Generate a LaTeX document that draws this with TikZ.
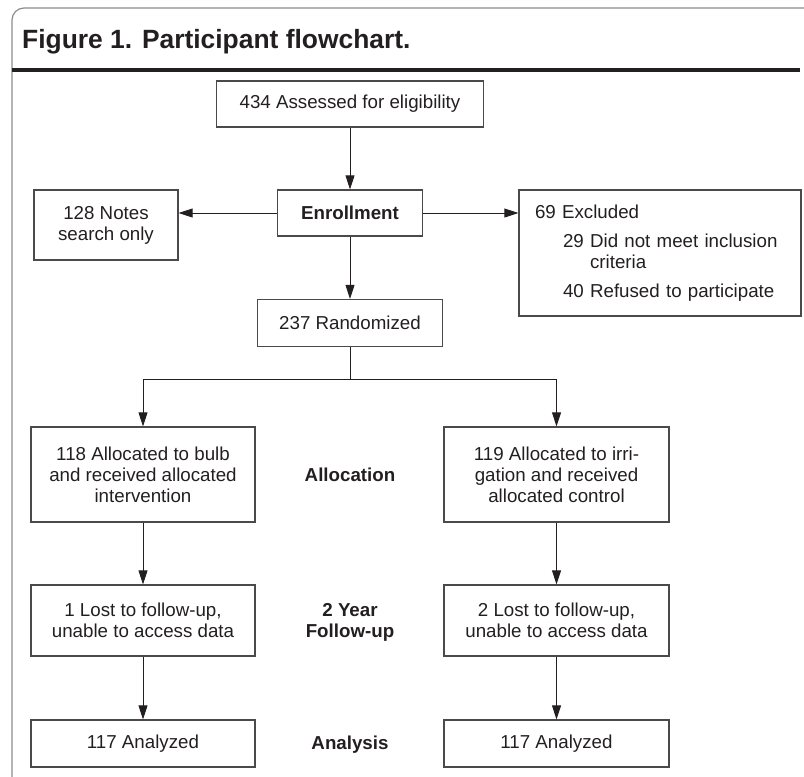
\documentclass[tikz,border=0pt]{standalone}
\usepackage{fontspec}
\setmainfont{Liberation Sans}
\usetikzlibrary{arrows.meta,positioning}
\definecolor{ink}{HTML}{231F20}
\definecolor{boxline}{HTML}{4A4A4A}
\definecolor{framegray}{HTML}{8C8C8C}

\begin{document}
\begin{tikzpicture}
    [x=1bp, y=-1bp,
    ->-/.style={-{Triangle[length=14bp,width=9bp]}, line width=0.9bp, draw=ink},
    box/.style={draw=boxline, line width=1.3bp, inner sep=0pt, align=center, text=ink,
        font=\fontsize{18.8}{21.1}\selectfont},
    stage/.style={inner sep=0pt, align=center, text=ink,
        font=\fontsize{18.8}{21.1}\selectfont\bfseries}]
        \useasboundingbox (0,0) rectangle (804,777);

        %% Frame and title
        \draw[framegray, line width=1.2bp, rounded corners=12bp] (12,777) -- (12,8) -- (804,8);
        \node[anchor=west, inner sep=0pt, text=ink, font=\fontsize{26.5}{30}\selectfont\bfseries] (title) at (22,42) {Figure 1. Participant flowchart.};
        \draw[ink, line width=4.5bp] (12,70) -- (800,70);

        %% Enrollment
        \node[box, minimum width=267bp, minimum height=46bp] (assess) at (350,104) {434 Assessed for eligibility};
        \node[box, minimum width=145bp, minimum height=46bp, below of = assess, node distance=109bp, font=\fontsize{18.8}{21.1}\selectfont\bfseries] (enrol) {Enrollment};
        \node[box, minimum width=144bp, minimum height=70bp] (notes) at (106,225) {128 Notes\\search only};
        \node[box, text width=250bp, inner xsep=16bp, minimum height=126bp, align=left] (excl) at (660,253)
            {69 Excluded\\[8bp]
             \hspace*{28bp}29 Did not meet inclusion\\
             \hspace*{28bp}\phantom{29 }criteria\\[8bp]
             \hspace*{28bp}40 Refused to participate};
        \node[box, minimum width=185bp, minimum height=47bp, below of = enrol, node distance=110bp] (rand) {237 Randomized};
        \coordinate[below of = rand, node distance=56bp] (split);

        \draw[->-] (assess) -- (enrol);
        \draw[->-] (enrol.west) -- (enrol.west -| notes.east);
        \draw[->-] (enrol.east) -- (enrol.east -| excl.west);
        \draw[->-] (enrol) -- (rand);

        %% Allocation
        \node[box, minimum width=224bp, minimum height=95bp] (bulb) at (143,474.5) {118 Allocated to bulb\\and received allocated\\intervention};
        \node[box, minimum width=225bp, minimum height=95bp] (irrig) at (556.5,474.5) {119 Allocated to irri-\\gation and received\\allocated control};
        \node[stage] (alloc) at (350,475) {Allocation};

        \draw[line width=0.9bp, draw=ink] (rand) -- (split);
        \draw[->-] (split) -| (bulb);
        \draw[->-] (split) -| (irrig);

        %% Follow-up
        \node[box, minimum width=224bp, minimum height=71bp, below of = bulb, node distance=146bp] (lost1) {1 Lost to follow-up,\\unable to access data};
        \node[box, minimum width=225bp, minimum height=71bp, below of = irrig, node distance=146bp] (lost2) {2 Lost to follow-up,\\unable to access data};
        \node[stage] (follow) at (350,622) {2 Year\\Follow-up};

        \draw[->-] (bulb) -- (lost1);
        \draw[->-] (irrig) -- (lost2);

        %% Analysis
        \node[box, minimum width=224bp, minimum height=47bp, below of = lost1, node distance=123bp] (ana1) {117 Analyzed};
        \node[box, minimum width=225bp, minimum height=47bp, below of = lost2, node distance=123bp] (ana2) {117 Analyzed};
        \node[stage] (analysis) at (350,745) {Analysis};

        \draw[->-] (lost1) -- (ana1);
        \draw[->-] (lost2) -- (ana2);
    \end{tikzpicture}
\end{document}
